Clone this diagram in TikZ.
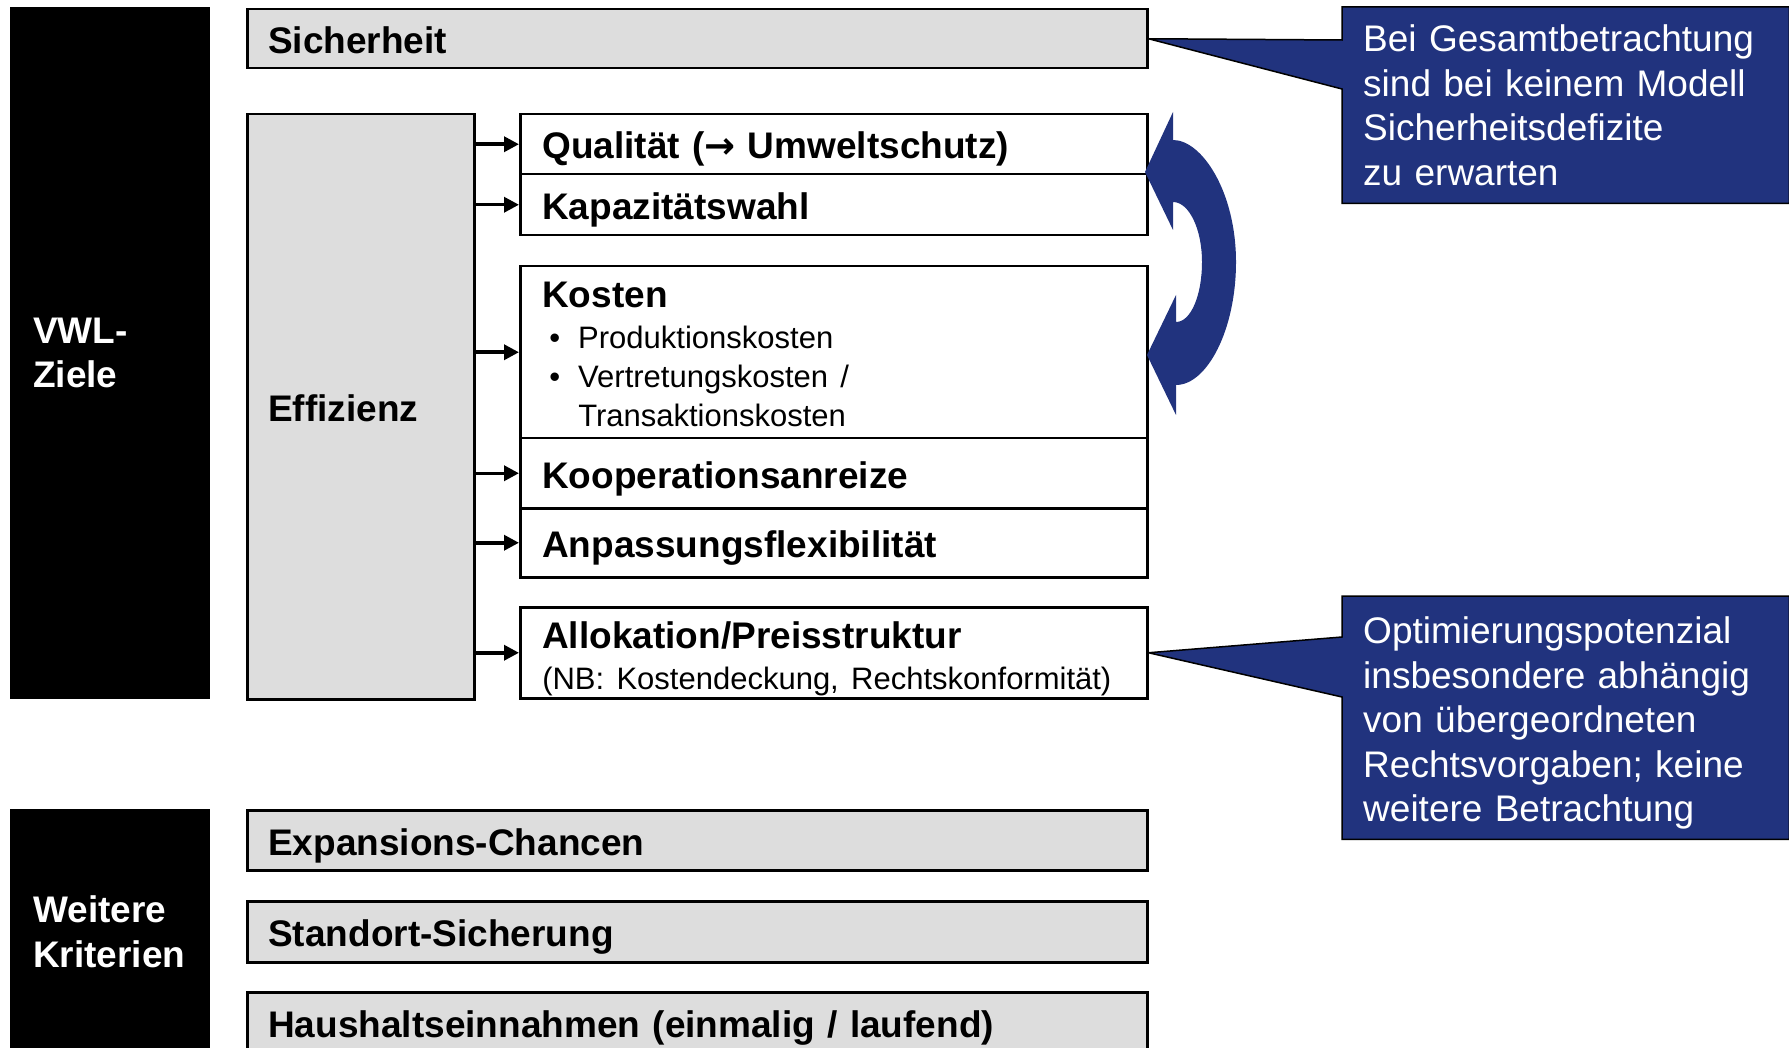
\documentclass[tikz,border=0pt]{standalone}
\usepackage{fontspec}
\setmainfont{Liberation Sans}
\newfontfamily\arrowfont{DejaVu Sans}
\usetikzlibrary{arrows.meta,calc,backgrounds}

\definecolor{boxgray}{RGB}{221,221,221}
\definecolor{noteblue}{RGB}{33,51,126}

\newcommand{\kostenpunkt}[1]{\hspace*{7pt}\makebox[29pt][l]{\textbullet}#1}
\frenchspacing

\tikzset{
  labelfont/.style={font=\fontsize{37}{44.5}\selectfont\bfseries},
  oneline/.style={text height=29.5pt, text depth=0pt},
  goalbox/.style={rectangle, fill=black, text=white, labelfont, anchor=north west, align=left, inner xsep=23pt, text width=154pt, minimum width=200pt},
  graybox/.style={rectangle, draw, line width=2.5pt, fill=boxgray, labelfont, anchor=north west, align=left, inner xsep=21pt, text width=858pt},
  itembox/.style={rectangle, draw, line width=2.5pt, fill=white, labelfont, anchor=north west, align=left, inner xsep=22pt, text width=583pt},
  notebox/.style={rectangle, text=white, font=\fontsize{37}{44.5}\selectfont, anchor=north west, align=left, inner xsep=21pt, text width=405pt},
  effarrow/.style={-{Triangle[length=15pt,width=15pt]}, line width=3.5pt}
}

\begin{document}
\begin{tikzpicture}[x=1pt,y=1pt,yscale=-1,xscale=1]
   \useasboundingbox (0,0) rectangle (1789,1048);

   % black boxes on the left
   \node[goalbox, minimum height=692pt] (vwl) at (10,7) {VWL-\\Ziele};
   \node[goalbox, minimum height=245pt] (weitere) at (10,809) {Weitere\\Kriterien};

   % gray boxes
   \node[graybox, oneline, minimum height=59pt] (sich) at (246,8) {Sicherheit};
   \node[graybox, oneline, text width=185pt, minimum height=585pt] (eff) at (246,113) {Effizienz};
   \node[graybox, oneline, minimum height=60pt] (exp) at (246,809) {Expansions-Chancen};
   \node[graybox, oneline, minimum height=61pt] (stand) at (246,900) {Standort-Sicherung};
   \node[graybox, oneline, minimum height=60pt] (haus) at (246,991) {Haushaltseinnahmen (einmalig / laufend)};

   % Effizienz criteria
   \node[itembox, oneline, minimum height=60pt] (qual) at (519,113) {Qualität ({\arrowfont →} Umweltschutz)};
   \node[itembox, oneline, minimum height=61pt] (kap) at (519,173) {Kapazitätswahl};
   \node[itembox, text depth=114pt, minimum height=172pt] (kost) at (519,265) {Kosten\\[2pt]
      \fontsize{31}{38.8}\selectfont\mdseries \kostenpunkt{Produktionskosten}\\
      \kostenpunkt{Vertretungskosten /}\\
      \hspace*{36pt}Transaktionskosten\par};
   \node[itembox, oneline, minimum height=70pt] (koop) at (519,437) {Kooperationsanreize};
   \node[itembox, oneline, minimum height=69pt] (anp) at (519,507) {Anpassungsflexibilität};
   \node[itembox, text depth=35pt, minimum height=91pt] (allok) at (519,606) {Allokation/Preisstruktur\\[2pt]
      \fontsize{31}{38.8}\selectfont\mdseries (NB: Kostendeckung, Rechtskonformität)\par};

   \foreach \crit in {qual,kap,kost,koop,anp,allok}
      \draw[effarrow] (eff.east |- \crit.west) -- (\crit.west);

   % notes
   \node[notebox, minimum height=196pt] (note1) at (1342,7) {Bei Gesamtbetrachtung\\sind bei keinem Modell\\Sicherheitsdefizite\\zu erwarten};
   \node[notebox, text depth=175pt, minimum height=243pt] (note2) at (1342,596) {Optimierungspotenzial\\insbesondere abhängig\\von übergeordneten\\Rechtsvorgaben; keine\\weitere Betrachtung};

   \begin{scope}[on background layer]
      \filldraw[fill=noteblue, draw=black, line width=1.5pt] (note1.north west) -- (note1.north east) -- (note1.south east) -- (note1.south west) -- ($(note1.north west)+(0,82)$) -- (sich.east) -- ($(note1.north west)+(0,33)$) -- cycle;
      \filldraw[fill=noteblue, draw=black, line width=1.5pt] (note2.north west) -- (note2.north east) -- (note2.south east) -- (note2.south west) -- ($(note2.north west)+(0,101)$) -- (allok.east) -- ($(note2.north west)+(0,41)$) -- cycle;
   \end{scope}

   % curved double arrow
   \fill[noteblue] (1145,172) -- (1173,112) -- (1173,140) .. controls (1202,140) and (1236,192) .. (1236,262) .. controls (1236,330) and (1207,385) .. (1176,385) -- (1176,415) -- (1147,355) -- (1176,295) -- (1176,322) .. controls (1191,322) and (1202,295) .. (1202,262) .. controls (1202,229) and (1189,202) .. (1173,202) -- (1173,230) -- cycle;

\end{tikzpicture}
\end{document}
